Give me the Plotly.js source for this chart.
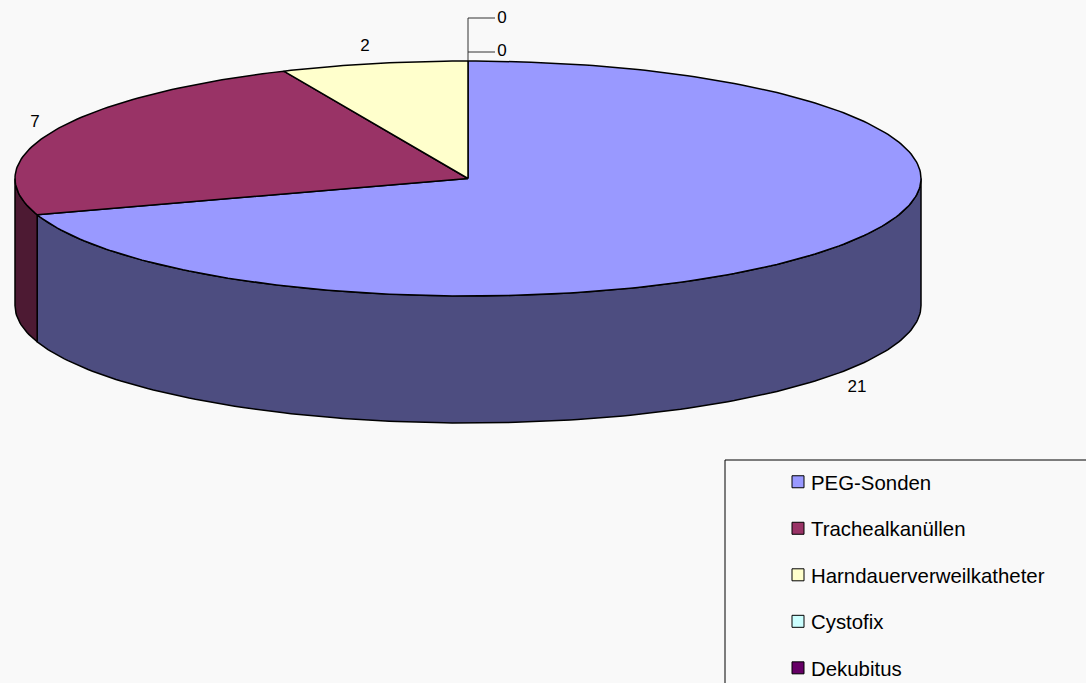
<!DOCTYPE html>
<html><head><meta charset="utf-8">
<script src="https://cdn.plot.ly/plotly-3.0.1.min.js"></script>
<style>html,body{margin:0;padding:0;background:#f9f9f9;overflow:hidden}</style>
</head><body><div id="chart" style="width:1086px;height:683px"></div>
<script>
const categories = ["PEG-Sonden","Trachealkanüllen","Harndauerverweilkatheter","Cystofix","Dekubitus"];
const values = [21,7,2,0,0];
const colors = ["#9999ff","#993366","#ffffcc","#ccffff","#660066"];
const sideColors = ["#4d4d80","#4d1a33","#808066","#668080","#330033"];

const cx=468, cy=178.5, rx=453, ry=117.5, depth=127;
const total = values.reduce((a,b)=>a+b,0);
const pt=(deg,dy=0)=>[cx+rx*Math.sin(deg*Math.PI/180), cy-ry*Math.cos(deg*Math.PI/180)+dy];
function arc(a,b,dy=0){const n=Math.max(2,Math.ceil(Math.abs(b-a)));const o=[];for(let i=0;i<=n;i++)o.push(pt(a+(b-a)*i/n,dy));return o;}
const poly=(points,color,name)=>({type:"scatter",mode:"lines",x:points.map(p=>p[0]),y:points.map(p=>p[1]),
  fill:"toself",fillcolor:color,line:{color:"#000",width:1.5},showlegend:false,hoverinfo:"skip",name});

const traces=[];
let start=0; const spans=values.map(v=>{const s=[start,start+v/total*360];start=s[1];return s;});
// side walls
spans.forEach((s,i)=>{const a=Math.max(s[0],90),b=Math.min(s[1],270);
  if(b>a){traces.push(poly(arc(a,b).concat(arc(b,a,depth)).concat([pt(a)]),sideColors[i],categories[i]));}});
// top faces
spans.forEach((s,i)=>{if(s[1]>s[0]){traces.push(poly([[cx,cy]].concat(arc(s[0],s[1])).concat([[cx,cy]]),colors[i],categories[i]));}});
// legend entries
categories.forEach((c,i)=>traces.push({type:"scatter",mode:"markers",x:[null],y:[null],name:c,legendgroup:c,
  marker:{symbol:"square",size:12,color:colors[i],line:{color:"#000",width:1}}}));
// value labels
const labelX=[857,35,365,502,502], labelY=[387.5,122.5,46.5,18.5,51.5];
traces.push({type:"scatter",mode:"text",x:labelX,y:labelY,text:values.map(String),textposition:"middle center",
  textfont:{family:"Liberation Sans, Arial, sans-serif",size:17,color:"#000"},showlegend:false,hoverinfo:"skip"});

const layout={width:1086,height:683,margin:{l:0,r:0,t:0,b:0,autoexpand:false},paper_bgcolor:"#f9f9f9",plot_bgcolor:"#f9f9f9",
  xaxis:{range:[0,1086],visible:false,fixedrange:true},
  yaxis:{range:[683,0],visible:false,fixedrange:true},
  showlegend:true,
  legend:{x:771/1086,y:1-462/683,xanchor:"left",yanchor:"top",bgcolor:"rgba(0,0,0,0)",borderwidth:0,
    traceorder:"grouped",tracegroupgap:17,itemclick:false,itemdoubleclick:false,
    font:{family:"Liberation Sans, Arial, sans-serif",size:20.4,color:"#000"}},
  shapes:[
   {type:"rect",xref:"x",yref:"y",x0:725,x1:1100,y0:460,y1:700,line:{color:"#000",width:1},layer:"below"},
   {type:"line",x0:468,x1:468,y0:61,y1:18,line:{color:"#333",width:1}},
   {type:"line",x0:468,x1:495,y0:18,y1:18,line:{color:"#333",width:1}},
   {type:"line",x0:468,x1:495,y0:52,y1:52,line:{color:"#333",width:1}}
  ]};
Plotly.newPlot("chart",traces,layout,{displayModeBar:false,staticPlot:true}).then(()=>{
  document.querySelectorAll(".legend .legendsymbols").forEach(g=>g.setAttribute("transform","translate(7,0)"));
});
</script></body></html>
